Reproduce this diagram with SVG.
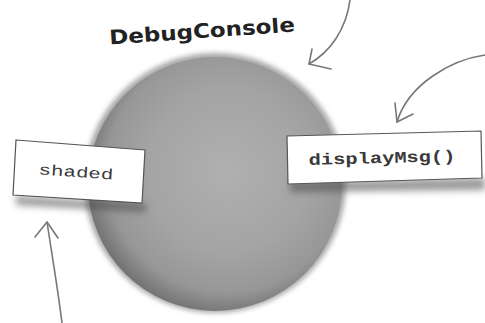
<svg xmlns="http://www.w3.org/2000/svg" width="485" height="323" viewBox="0 0 485 323">
  <defs>
    <radialGradient id="ballFill" cx="0.55" cy="0.45" r="0.58">
      <stop offset="0" stop-color="#b0b0b0"/>
      <stop offset="0.55" stop-color="#a4a4a4"/>
      <stop offset="0.82" stop-color="#979797"/>
      <stop offset="0.94" stop-color="#7c7c7c"/>
      <stop offset="1" stop-color="#6e6e6e"/>
    </radialGradient>
    <filter id="soft" x="-20%" y="-20%" width="140%" height="140%">
      <feGaussianBlur stdDeviation="2.5"/>
    </filter>
    <filter id="shadow" x="-30%" y="-60%" width="160%" height="220%">
      <feGaussianBlur stdDeviation="3.5"/>
    </filter>
  </defs>
  <style>
    .label { fill: #fff; stroke: #555; stroke-width: 1.2; }
    .mono { font-family: "Liberation Mono", "DejaVu Sans Mono", monospace; fill: #3a3a3a; }
    .title { font-family: "DejaVu Sans", "Liberation Sans", sans-serif; font-weight: bold; fill: #222; }
    .arrow { fill: none; stroke: #777; stroke-width: 1.6; stroke-linecap: round; stroke-linejoin: round; }
  </style>

  <rect width="485" height="323" fill="#ffffff"/>

  <!-- the object: a shaded ball -->
  <g id="debugConsole">
    <ellipse cx="215" cy="183" rx="131" ry="130" fill="#a9a9a9" filter="url(#soft)"/>
    <ellipse cx="215" cy="184" rx="127" ry="127" fill="url(#ballFill)"/>
    <text class="title" x="202" y="38" font-size="20" text-anchor="middle" textLength="186" lengthAdjust="spacingAndGlyphs" transform="rotate(-4 202 31)">DebugConsole</text>
  </g>

  <!-- instance variable tag -->
  <g id="shaded">
    <polygon points="16,196 146,204 146,212 16,205" fill="#444" opacity="0.55" filter="url(#shadow)"/>
    <polygon class="label" points="16,140 145,150 142,203 13,195"/>
    <text class="mono" x="76" y="177" font-size="15" text-anchor="middle" textLength="75" lengthAdjust="spacingAndGlyphs" transform="rotate(4 76 172)">shaded</text>
  </g>

  <!-- method tag -->
  <g id="displayMsg">
    <polygon points="290,182 485,178 485,190 290,192" fill="#444" opacity="0.55" filter="url(#shadow)"/>
    <polygon class="label" points="287,136 481,131 482,178 288,184"/>
    <text class="mono" x="382" y="163" font-size="16" font-weight="bold" text-anchor="middle" textLength="147" lengthAdjust="spacingAndGlyphs" transform="rotate(-1.5 382 158)">displayMsg()</text>
  </g>

  <!-- pointer arrows -->
  <g id="connectors">
    <path class="arrow" d="M350,0 C346,30 330,52 309,64"/>
    <path class="arrow" d="M312,49 L309,64 L331,69"/>
    <path class="arrow" d="M485,55 C450,60 408,85 397,122"/>
    <path class="arrow" d="M395,103 L397,122 L413,114"/>
    <path class="arrow" d="M62,323 C58,290 52,255 47,222"/>
    <path class="arrow" d="M35,237 L47,222 L58,238"/>
  </g>
</svg>
